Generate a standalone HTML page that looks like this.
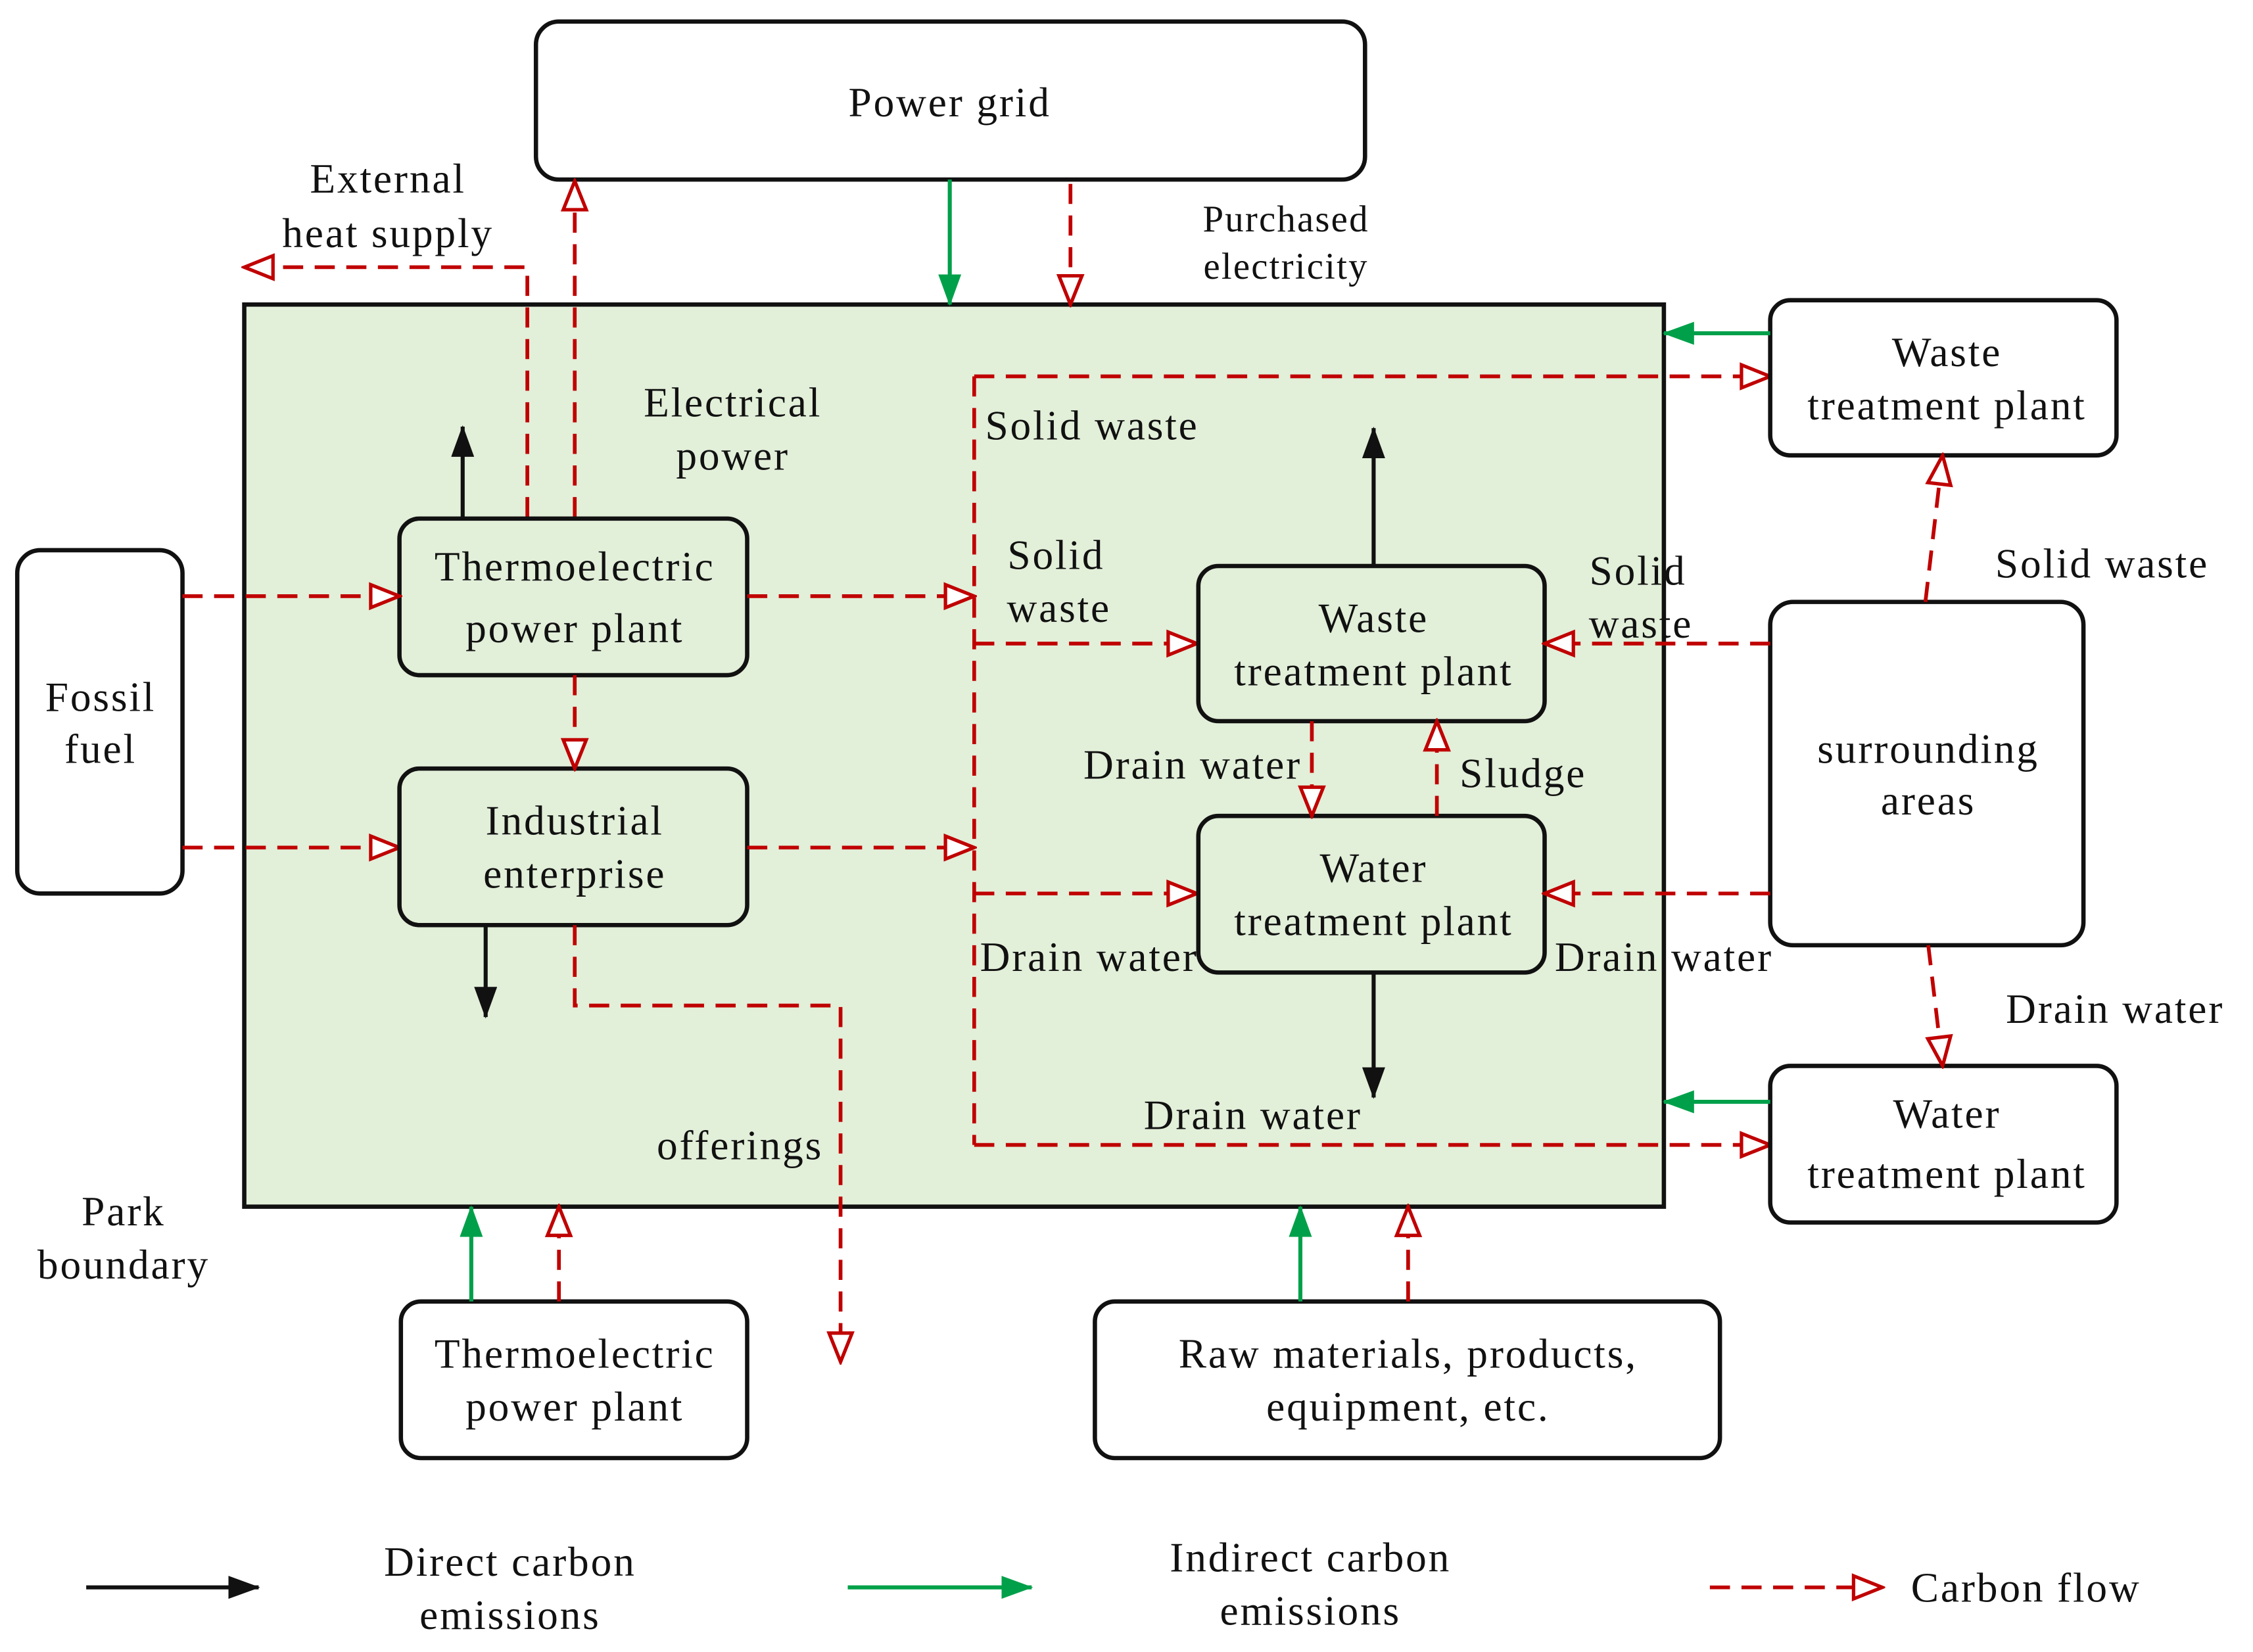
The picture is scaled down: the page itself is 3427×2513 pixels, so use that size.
<!DOCTYPE html>
<html><head><meta charset="utf-8"><style>
html,body{margin:0;padding:0;background:#fff;}
svg{display:block;}
text{font-family:"Liberation Serif",serif;font-size:29px;letter-spacing:1.3px;fill:#111;text-anchor:middle;}
.b{fill:#fff;stroke:#111;stroke-width:3;}
.r{stroke:#c00000;stroke-width:2.6;stroke-dasharray:14 8;fill:none;}
.g{stroke:#00a04a;stroke-width:2.8;fill:none;}
.k{stroke:#111;stroke-width:2.8;fill:none;}
</style></head><body>
<svg width="3427" height="2513" viewBox="0 0 1568 1150" preserveAspectRatio="none" xmlns="http://www.w3.org/2000/svg">
<defs>
<marker id="mr" viewBox="0 0 24 20" refX="22" refY="10" markerWidth="24" markerHeight="20" markerUnits="userSpaceOnUse" orient="auto">
<path d="M2,2 L22,10 L2,18 Z" fill="#fff" stroke="#c00000" stroke-width="2.4"/></marker>
<marker id="mg" viewBox="0 0 22 16" refX="21" refY="8" markerWidth="22" markerHeight="16" markerUnits="userSpaceOnUse" orient="auto">
<path d="M0,0 L22,8 L0,16 Z" fill="#00a04a"/></marker>
<marker id="mk" viewBox="0 0 22 16" refX="21" refY="8" markerWidth="22" markerHeight="16" markerUnits="userSpaceOnUse" orient="auto">
<path d="M0,0 L22,8 L0,16 Z" fill="#111"/></marker>
</defs>
<rect x="170" y="212" width="988" height="628" fill="#e2efd9" stroke="#111" stroke-width="3"/>
<rect class="b" x="373" y="15" width="577" height="110" rx="16"/>
<text x="661" y="81">Power grid</text>
<line class="g" x1="661" y1="125" x2="661" y2="212" marker-end="url(#mg)"/>
<line class="r" x1="745" y1="128" x2="745" y2="212" marker-end="url(#mr)"/>
<text x="895" y="161" style="font-size:26px;letter-spacing:1px">Purchased</text>
<text x="895" y="194" style="font-size:26px;letter-spacing:1px">electricity</text>
<text x="270" y="134">External</text><text x="270" y="172">heat supply</text>
<polyline class="r" points="367,360 367,186 170,186" marker-end="url(#mr)"/>
<line class="r" x1="400" y1="360" x2="400" y2="126" marker-end="url(#mr)"/>
<rect class="b" x="278" y="361" width="242" height="109" rx="14" style="fill:#e2efd9"/>
<text x="400" y="404">Thermoelectric</text><text x="400" y="447">power plant</text>
<line class="k" x1="322" y1="361" x2="322" y2="297" marker-end="url(#mk)"/>
<text x="510" y="290">Electrical</text><text x="510" y="327">power</text>
<rect class="b" x="12" y="383" width="115" height="239" rx="16"/>
<text x="70" y="495">Fossil</text><text x="70" y="531">fuel</text>
<line class="r" x1="127" y1="415" x2="278" y2="415" marker-end="url(#mr)"/>
<line class="r" x1="127" y1="590" x2="278" y2="590" marker-end="url(#mr)"/>
<rect class="b" x="278" y="535" width="242" height="109" rx="14" style="fill:#e2efd9"/>
<text x="400" y="581">Industrial</text><text x="400" y="618">enterprise</text>
<line class="r" x1="400" y1="470" x2="400" y2="535" marker-end="url(#mr)"/>
<line class="k" x1="338" y1="644" x2="338" y2="708" marker-end="url(#mk)"/>
<polyline class="r" points="400,644 400,700 585,700 585,948" marker-end="url(#mr)"/>
<text x="515" y="807">offerings</text>
<line class="r" x1="520" y1="415" x2="678" y2="415" marker-end="url(#mr)"/>
<line class="r" x1="520" y1="590" x2="678" y2="590" marker-end="url(#mr)"/>
<line class="r" x1="678" y1="262" x2="678" y2="797"/>
<line class="r" x1="678" y1="262" x2="1232" y2="262" marker-end="url(#mr)"/>
<text x="760" y="306">Solid waste</text>
<text x="735" y="396">Solid</text><text x="737" y="433">waste</text>
<line class="r" x1="678" y1="448" x2="833" y2="448" marker-end="url(#mr)"/>
<line class="r" x1="678" y1="622" x2="833" y2="622" marker-end="url(#mr)"/>
<text x="758" y="676">Drain water</text>
<line class="r" x1="678" y1="797" x2="1232" y2="797" marker-end="url(#mr)"/>
<text x="872" y="786">Drain water</text>
<rect class="b" x="834" y="394" width="241" height="108" rx="14" style="fill:#e2efd9"/>
<text x="956" y="440">Waste</text><text x="956" y="477">treatment plant</text>
<line class="k" x1="956" y1="394" x2="956" y2="298" marker-end="url(#mk)"/>
<rect class="b" x="834" y="568" width="241" height="109" rx="14" style="fill:#e2efd9"/>
<text x="956" y="614">Water</text><text x="956" y="651">treatment plant</text>
<line class="k" x1="956" y1="677" x2="956" y2="764" marker-end="url(#mk)"/>
<line class="r" x1="913" y1="502" x2="913" y2="568" marker-end="url(#mr)"/>
<text x="830" y="542">Drain water</text>
<line class="r" x1="1000" y1="568" x2="1000" y2="502" marker-end="url(#mr)"/>
<text x="1060" y="548">Sludge</text>
<rect class="b" x="1232" y="419" width="218" height="239" rx="16"/>
<text x="1342" y="531">surrounding</text><text x="1342" y="567">areas</text>
<line class="r" x1="1232" y1="448" x2="1075" y2="448" marker-end="url(#mr)"/>
<text x="1140" y="407">Solid</text><text x="1142" y="444">waste</text>
<line class="r" x1="1232" y1="622" x2="1075" y2="622" marker-end="url(#mr)"/>
<text x="1158" y="676">Drain water</text>
<rect class="b" x="1232" y="209" width="241" height="108" rx="14"/>
<text x="1355" y="255">Waste</text><text x="1355" y="292">treatment plant</text>
<line class="g" x1="1232" y1="232" x2="1158" y2="232" marker-end="url(#mg)"/>
<line class="r" x1="1340" y1="419" x2="1352" y2="317" marker-end="url(#mr)"/>
<text x="1463" y="402">Solid waste</text>
<rect class="b" x="1232" y="742" width="241" height="109" rx="14"/>
<text x="1355" y="785">Water</text><text x="1355" y="827">treatment plant</text>
<line class="g" x1="1232" y1="767" x2="1158" y2="767" marker-end="url(#mg)"/>
<line class="r" x1="1342" y1="658" x2="1352" y2="742" marker-end="url(#mr)"/>
<text x="1472" y="712">Drain water</text>
<text x="86" y="853">Park</text><text x="86" y="890">boundary</text>
<rect class="b" x="279" y="906" width="241" height="109" rx="14"/>
<text x="400" y="952">Thermoelectric</text><text x="400" y="989">power plant</text>
<line class="g" x1="328" y1="906" x2="328" y2="840" marker-end="url(#mg)"/>
<line class="r" x1="389" y1="906" x2="389" y2="840" marker-end="url(#mr)"/>
<rect class="b" x="762" y="906" width="435" height="109" rx="14"/>
<text x="980" y="952">Raw materials, products,</text><text x="980" y="989">equipment, etc.</text>
<line class="g" x1="905" y1="906" x2="905" y2="840" marker-end="url(#mg)"/>
<line class="r" x1="980" y1="906" x2="980" y2="840" marker-end="url(#mr)"/>
<line class="k" x1="60" y1="1105" x2="180" y2="1105" marker-end="url(#mk)"/>
<text x="355" y="1097">Direct carbon</text><text x="355" y="1134">emissions</text>
<line class="g" x1="590" y1="1105" x2="718" y2="1105" marker-end="url(#mg)"/>
<text x="912" y="1094">Indirect carbon</text><text x="912" y="1131">emissions</text>
<line class="r" x1="1190" y1="1105" x2="1310" y2="1105" marker-end="url(#mr)"/>
<text x="1410" y="1115">Carbon flow</text>
</svg>
</body></html>
